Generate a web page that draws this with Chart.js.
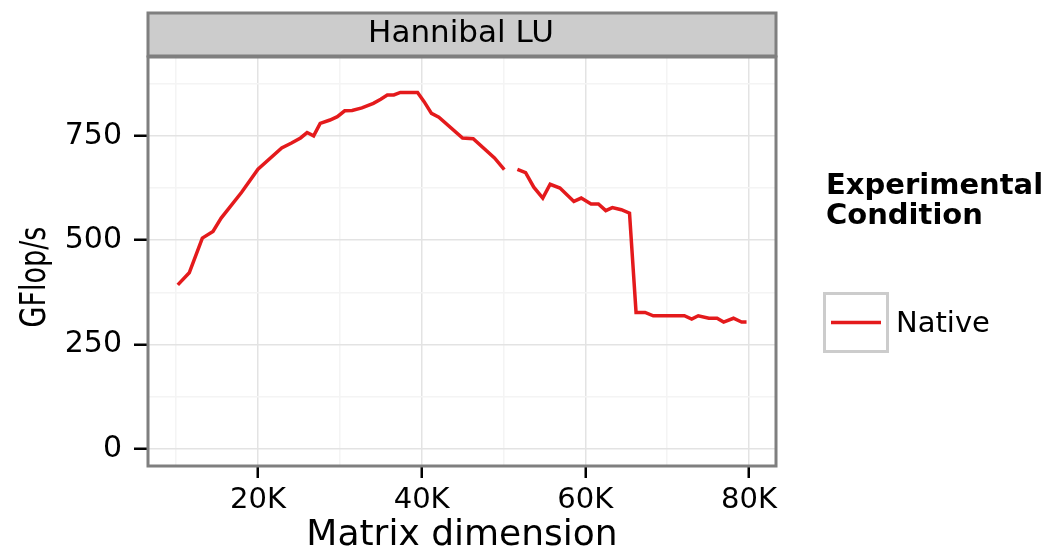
<!DOCTYPE html>
<html>
<head>
<meta charset="utf-8">
<script src="https://cdn.jsdelivr.net/npm/chart.js@4/dist/chart.umd.min.js"></script>
<style>
  body { margin: 0; background: #fff; }
  canvas { display: block; }
</style>
</head>
<body>
<canvas id="lineChart" width="1056" height="552"></canvas>
<script>
// matrix dimension, GFlop/s, null = gap in the line
const matrixDim = [10200, 11600, 13200, 14500, 15500, 18000, 20000, 22900, 24100, 25200,
    26000, 26800, 27600, 28800, 29700, 30600, 31500, 32700, 34100, 35000,
    35800, 36600, 37400, 39500, 40300, 41200, 42100, 45000, 46300, 48900,
    50100, 51000, 51700, 52700, 53700, 54800, 55700, 56900, 58600, 59500,
    60700, 61600, 62500, 63300, 64400, 65400, 66200, 67300, 68300, 72100,
    73000, 73800, 75100, 76100, 76900, 78100, 79100, 79700];
const nativeGflops = [393, 422, 505, 521, 553, 615, 670, 721, 733, 745,
    758, 750, 780, 788, 796, 810, 811, 817, 828, 838,
    848, 848, 854, 854, 832, 804, 795, 745, 743, 697,
    669, null, 670, 662, 627, 601, 634, 625, 593, 601,
    587, 587, 571, 578, 573, 565, 327, 327, 319, 319,
    311, 319, 313, 313, 304, 313, 304, 304];

const xTicks = [10000, 20000, 30000, 40000, 50000, 60000, 70000, 80000];
const yTicks = [0, 125, 250, 375, 500, 625, 750, 875];
const seriesName = "Native";
const facetTitle = "Hannibal LU";
const legendTitle = ["Experimental", "Condition"];
const yTitle = "GFlop/s";

const FONT = "'DejaVu Sans', sans-serif";
const RED = "#e41a1c";
const MAJOR = "#e3e3e3";
const MINOR = "#f4f4f4";

// facet strip, panel border, y title and legend drawn around the chart area
const decorations = {
    id: "decorations",
    beforeDatasetsDraw(chart) {
        const { ctx, chartArea: a } = chart;
        ctx.save();
        ctx.fillStyle = "#cccccc";
        ctx.fillRect(a.left, 13, a.right - a.left, a.top - 14);
        ctx.strokeStyle = "#7f7f7f";
        ctx.lineWidth = 3;
        ctx.strokeRect(a.left, 13, a.right - a.left, a.top - 14);
        ctx.fillStyle = "#000";
        ctx.font = "31px " + FONT;
        ctx.textAlign = "center";
        ctx.textBaseline = "middle";
        ctx.fillText(facetTitle, (a.left + a.right) / 2 - 1, 34);
        ctx.restore();
    },
    afterDraw(chart) {
        const { ctx, chartArea: a } = chart;
        ctx.save();
        ctx.strokeStyle = "#7f7f7f";
        ctx.lineWidth = 3;
        ctx.strokeRect(a.left, a.top, a.right - a.left, a.bottom - a.top);

        // y axis title, narrower along its length like the reference
        ctx.save();
        ctx.translate(36, 277);
        ctx.rotate(-Math.PI / 2);
        ctx.scale(0.75, 1);
        ctx.fillStyle = "#000";
        ctx.font = "36px " + FONT;
        ctx.textAlign = "center";
        ctx.textBaseline = "middle";
        ctx.fillText(yTitle, 0, 0);
        ctx.restore();

        ctx.fillStyle = "#000";
        ctx.font = "bold 29px " + FONT;
        ctx.textAlign = "left";
        ctx.textBaseline = "middle";
        ctx.fillText(legendTitle[0], 826, 186);
        ctx.fillText(legendTitle[1], 826, 216);

        ctx.strokeStyle = "#cccccc";
        ctx.lineWidth = 3;
        ctx.strokeRect(824.5, 293.5, 63, 58);
        ctx.strokeStyle = RED;
        ctx.lineWidth = 3.5;
        ctx.beginPath();
        ctx.moveTo(831, 322.5);
        ctx.lineTo(881, 322.5);
        ctx.stroke();

        ctx.font = "29px " + FONT;
        ctx.fillText(seriesName, 896, 324);
        ctx.restore();
    }
};

const ctx = document.getElementById("lineChart").getContext("2d");

new Chart(ctx, {
    type: "line",
    data: {
        datasets: [{
            label: seriesName,
            data: matrixDim.map((x, i) => ({ x: x, y: nativeGflops[i] })),
            borderColor: RED,
            borderWidth: 3.5,
            pointRadius: 0,
            fill: false,
            spanGaps: false,
            tension: 0
        }]
    },
    options: {
        responsive: false,
        animation: false,
        layout: { padding: { left: 0, right: 280, top: 57, bottom: 0 } },
        plugins: {
            legend: { display: false },
            tooltip: { enabled: false }
        },
        scales: {
            x: {
                type: "linear",
                min: 6560,
                max: 83300,
                afterBuildTicks: s => { s.ticks = xTicks.map(v => ({ value: v })); },
                afterFit: s => { s.height = 86; },
                border: { display: false },
                grid: {
                    color: c => (c.tick && c.tick.value % 20000 === 0) ? MAJOR : MINOR,
                    lineWidth: 1.5,
                    tickLength: 12,
                    tickWidth: 2.5,
                    tickColor: c => (c.tick && c.tick.value % 20000 === 0) ? "#000" : "rgba(0,0,0,0)"
                },
                ticks: {
                    color: "#000",
                    font: { family: FONT, size: 29 },
                    padding: 5,
                    maxRotation: 0,
                    autoSkip: false,
                    callback: v => v % 20000 === 0 ? (v / 1000) + "K" : ""
                },
                title: {
                    display: true,
                    text: "Matrix dimension",
                    color: "#000",
                    font: { family: FONT, size: 36 },
                    padding: { top: 0, bottom: -5 }
                }
            },
            y: {
                min: -41,
                max: 939,
                afterBuildTicks: s => { s.ticks = yTicks.map(v => ({ value: v })); },
                afterFit: s => { s.width = 148; },
                border: { display: false },
                grid: {
                    color: c => (c.tick && c.tick.value % 250 === 0) ? MAJOR : MINOR,
                    lineWidth: 1.5,
                    tickLength: 14,
                    tickWidth: 2.5,
                    tickColor: c => (c.tick && c.tick.value % 250 === 0) ? "#000" : "rgba(0,0,0,0)"
                },
                ticks: {
                    color: "#000",
                    font: { family: FONT, size: 30 },
                    padding: 12,
                    autoSkip: false,
                    callback: v => v % 250 === 0 ? String(v) : ""
                },
                title: { display: false }
            }
        }
    },
    plugins: [decorations]
});
</script>
</body>
</html>
